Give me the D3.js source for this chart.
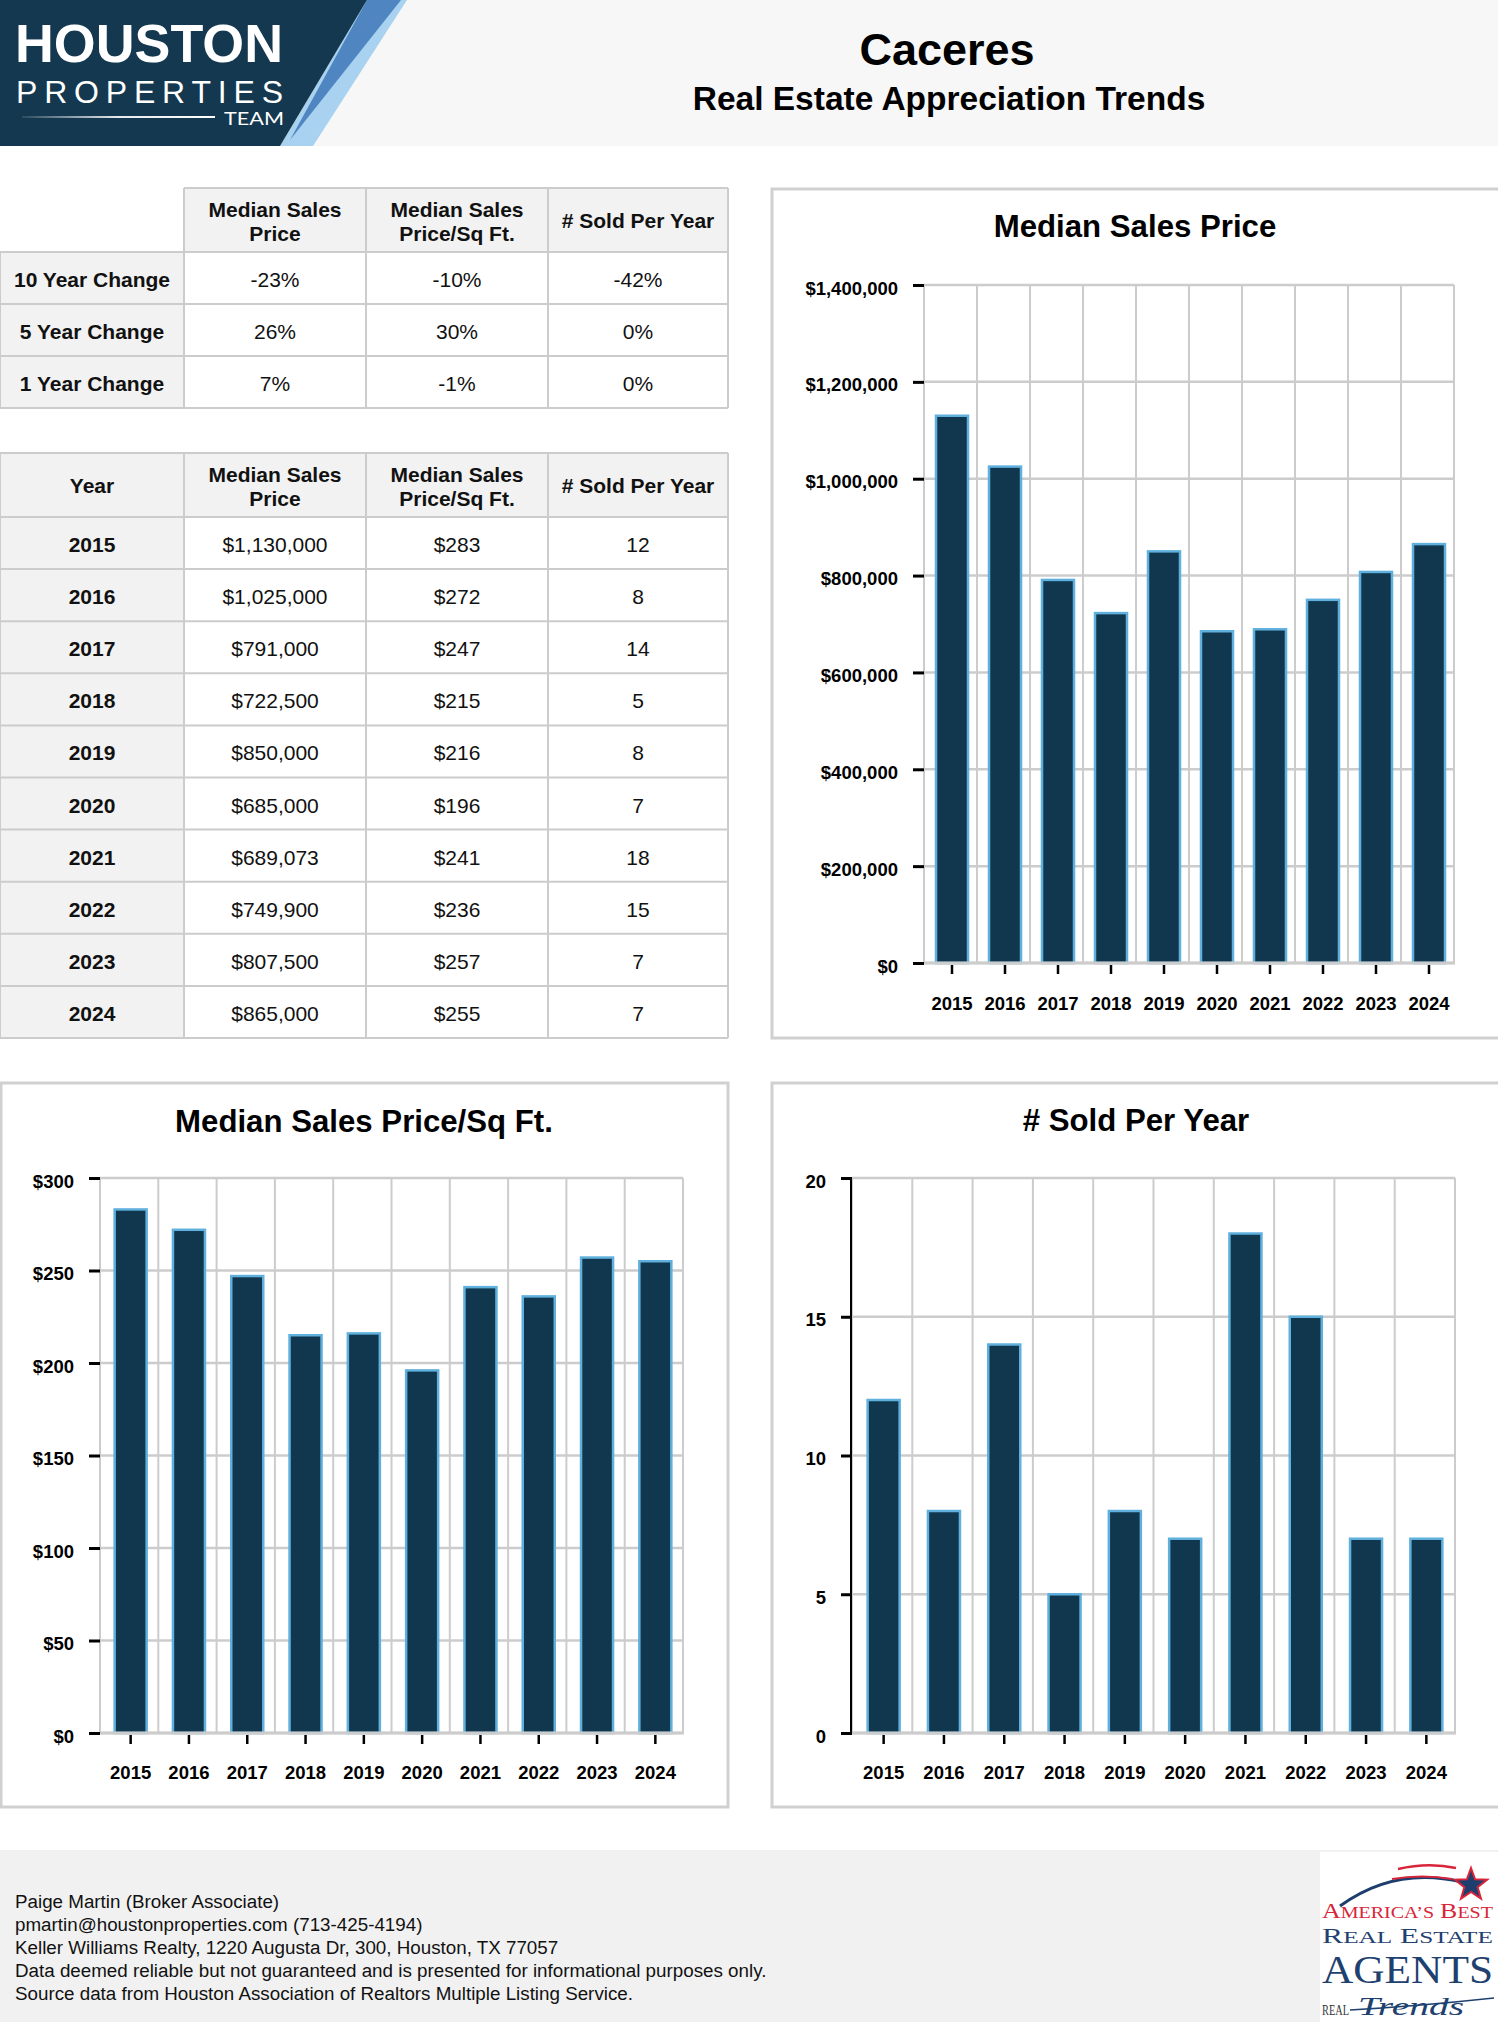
<!DOCTYPE html>
<html><head><meta charset="utf-8">
<script src="https://cdn.jsdelivr.net/npm/d3@7"></script>
<style>
html,body{margin:0;padding:0;background:#fff;}
svg{display:block;font-family:"Liberation Sans",Arial,Helvetica,sans-serif;}
</style></head><body>
<svg id="page" width="1498" height="2022"></svg>
<script>
// ---------- DATA ----------
const years = ["2015","2016","2017","2018","2019","2020","2021","2022","2023","2024"];
const medianPrice = [1130000,1025000,791000,722500,850000,685000,689073,749900,807500,865000];
const pricePerSqFt = [283,272,247,215,216,196,241,236,257,255];
const soldPerYear = [12,8,14,5,8,7,18,15,7,7];

const changeLabels = ["10 Year Change","5 Year Change","1 Year Change"];
const changePrice = ["-23%","26%","7%"];
const changePsf = ["-10%","30%","-1%"];
const changeSold = ["-42%","0%","0%"];

const colHeaders = [["Median Sales","Price"],["Median Sales","Price/Sq Ft."],["# Sold Per Year"]];
const priceTicks = [0,200000,400000,600000,800000,1000000,1200000,1400000];
const psfTicks = [0,50,100,150,200,250,300];
const soldTicks = [0,5,10,15,20];

const footerLines = [
  "Paige Martin (Broker Associate)",
  "pmartin@houstonproperties.com (713-425-4194)",
  "Keller Williams Realty, 1220 Augusta Dr, 300, Houston, TX 77057",
  "Data deemed reliable but not guaranteed and is presented for informational purposes only.",
  "Source data from Houston Association of Realtors Multiple Listing Service."
];

// ---------- STYLE ----------
const NAVY = "#11374f", BAR_STROKE = "#5fb0dc", GRID = "#cccccc";
const svg = d3.select("#page");

// ---------- HEADER ----------
svg.append("rect").attr("x",0).attr("y",0).attr("width",1498).attr("height",146).attr("fill","#f7f7f7");
svg.append("polygon").attr("points","367,0 407,0 313,146 280,146").attr("fill","#a9d2f0");
svg.append("polygon").attr("points","367,0 401,0 290,140").attr("fill","#4f86c2");
svg.append("polygon").attr("points","0,0 367,0 280,146 0,146").attr("fill","#13384f");
svg.append("text").attr("x",15).attr("y",62).attr("fill","#fff")
  .attr("font-family","'Liberation Sans', Arial, sans-serif").attr("font-weight",700).attr("font-size",54)
  .attr("textLength",268).attr("lengthAdjust","spacingAndGlyphs").text("HOUSTON");
svg.append("text").attr("x",16).attr("y",103).attr("fill","#fff")
  .attr("font-family","'Liberation Sans', Arial, sans-serif").attr("font-weight",400).attr("font-size",32)
  .attr("textLength",267).attr("lengthAdjust","spacing").text("PROPERTIES");
svg.append("text").attr("x",224).attr("y",125).attr("fill","#fff")
  .attr("font-family","Lato, 'Open Sans', sans-serif").attr("font-weight",400).attr("font-size",18)
  .attr("textLength",60).attr("lengthAdjust","spacingAndGlyphs").text("TEAM");
const grad = svg.append("defs").append("linearGradient").attr("id","lineFade");
grad.append("stop").attr("offset","0").attr("stop-color","#fff").attr("stop-opacity",0.1);
grad.append("stop").attr("offset","0.5").attr("stop-color","#fff").attr("stop-opacity",0.9);
grad.append("stop").attr("offset","1").attr("stop-color","#fff").attr("stop-opacity",1);
svg.append("rect").attr("x",22).attr("y",116).attr("width",193).attr("height",2).attr("fill","url(#lineFade)");

svg.append("text").attr("x",947).attr("y",65).attr("text-anchor","middle").attr("font-weight",700)
  .attr("font-size",45).attr("fill","#000").text("Caceres");
svg.append("text").attr("x",949).attr("y",110).attr("text-anchor","middle").attr("font-weight",700)
  .attr("font-size",33.5).attr("fill","#000").text("Real Estate Appreciation Trends");

// ---------- TABLES ----------
const colX = [0,184,366,548,728];
const TF = 21;
function drawTable(rowY, firstHeader, bodyRows) {
  const g = svg.append("g");
  const nRows = rowY.length - 1;
  for (let r = 0; r < nRows; r++) {
    for (let c = 0; c < 4; c++) {
      const blank = (r === 0 && c === 0 && firstHeader === null);
      const fill = blank ? "#fff" : ((r === 0 || c === 0) ? "#f2f2f2" : "#fff");
      g.append("rect").attr("x",colX[c]).attr("y",rowY[r]).attr("width",colX[c+1]-colX[c])
        .attr("height",rowY[r+1]-rowY[r]).attr("fill",fill);
    }
  }
  for (let r = 0; r <= nRows; r++) {
    const xs = (r === 0 && firstHeader === null) ? colX[1] : colX[0];
    g.append("line").attr("x1",xs).attr("x2",colX[4]).attr("y1",rowY[r]).attr("y2",rowY[r])
      .attr("stroke",GRID).attr("stroke-width",2);
  }
  for (let c = 0; c <= 4; c++) {
    const ys = (c === 0 && firstHeader === null) ? rowY[1] : rowY[0];
    g.append("line").attr("x1",colX[c]).attr("x2",colX[c]).attr("y1",ys).attr("y2",rowY[nRows])
      .attr("stroke",GRID).attr("stroke-width",2);
  }
  const hc = (rowY[0] + rowY[1]) / 2;
  const headers = [firstHeader ? [firstHeader] : []].concat(colHeaders);
  headers.forEach((lines, c) => {
    const cx = (colX[c] + colX[c+1]) / 2;
    const bases = lines.length === 2 ? [hc - 3, hc + 21] : [hc + 8];
    lines.forEach((t, i) => {
      g.append("text").attr("x",cx).attr("y",bases[i]).attr("text-anchor","middle")
        .attr("font-weight",700).attr("font-size",TF).attr("fill","#111").text(t);
    });
  });
  bodyRows.forEach((row, r) => {
    const cy = (rowY[r+1] + rowY[r+2]) / 2 + 9;
    row.forEach((t, c) => {
      const cx = (colX[c] + colX[c+1]) / 2;
      g.append("text").attr("x",cx).attr("y",cy).attr("text-anchor","middle")
        .attr("font-weight", c === 0 ? 700 : 400).attr("font-size",TF).attr("fill","#111").text(t);
    });
  });
}
drawTable([188,252,304,356,408], null,
  changeLabels.map((l,i) => [l, changePrice[i], changePsf[i], changeSold[i]]));

const t2Rows = [453,517].concat(d3.range(1,11).map(i => 517 + i*52.1));
const fmtMoney = d3.format("$,");
drawTable(t2Rows, "Year",
  years.map((y,i) => [y, fmtMoney(medianPrice[i]), "$" + pricePerSqFt[i], String(soldPerYear[i])]));

// ---------- CHARTS ----------
function barChart(o) {
  svg.append("rect").attr("x",o.px).attr("y",o.py).attr("width",o.pw).attr("height",o.ph)
    .attr("fill","#fff").attr("stroke","#d0d0d0").attr("stroke-width",3);
  svg.append("text").attr("x",o.tx).attr("y",o.ty).attr("text-anchor","middle")
    .attr("font-weight",700).attr("font-size",31.2).attr("fill","#000").text(o.title);

  const x = d3.scaleBand().domain(years).range([o.x0, o.x1]);
  const y = d3.scaleLinear().domain([0, o.ticks[o.ticks.length-1]]).range([o.y1, o.y0]);
  const g = svg.append("g");
  g.selectAll(".hg").data(o.ticks).join("line")
    .attr("x1",o.x0).attr("x2",o.x1).attr("y1",d=>y(d)).attr("y2",d=>y(d))
    .attr("stroke",GRID).attr("stroke-width",2.5);
  g.selectAll(".vg").data(d3.range(0, years.length+1)).join("line")
    .attr("x1",i=>o.x0 + i*x.step()).attr("x2",i=>o.x0 + i*x.step())
    .attr("y1",o.y0).attr("y2",o.y1).attr("stroke",GRID).attr("stroke-width",2);
  const bw = 32;
  g.selectAll(".bar").data(o.values).join("rect")
    .attr("x",(d,i)=>x(years[i]) + x.bandwidth()/2 - bw/2 + 1.5)
    .attr("y",d=>y(d)).attr("width",bw).attr("height",d=>o.y1 - y(d))
    .attr("fill",NAVY).attr("stroke",BAR_STROKE).attr("stroke-width",2.5);
  g.append("line").attr("x1",o.x0).attr("x2",o.x1+1).attr("y1",o.y1).attr("y2",o.y1)
    .attr("stroke",GRID).attr("stroke-width",3);
  const ya = svg.append("g").attr("transform",`translate(${o.x0},0)`)
    .call(d3.axisLeft(y).tickValues(o.ticks).tickSize(11).tickPadding(15).tickFormat(o.fmt));
  ya.select(".domain").attr("stroke", o.blackAxis ? "#000" : "none").attr("stroke-width",2)
    .attr("d", `M-1,${o.y0}V${o.y1}`);
  ya.selectAll(".tick line").attr("stroke","#000").attr("stroke-width",3);
  ya.selectAll(".tick text").attr("dy",null).attr("y",9).attr("font-size",18.5)
    .attr("font-weight",700).attr("fill","#000").attr("font-family","Liberation Sans, Arial, sans-serif");
  const xa = svg.append("g").attr("transform",`translate(1.5,${o.y1+2})`)
    .call(d3.axisBottom(x).tickSize(9).tickPadding(0));
  xa.select(".domain").remove();
  xa.selectAll(".tick line").attr("stroke","#000").attr("stroke-width",2.5);
  xa.selectAll(".tick text").attr("dy",null).attr("y",o.xLabelOff).attr("font-size",18.5)
    .attr("font-weight",700).attr("fill","#000").attr("font-family","Liberation Sans, Arial, sans-serif");
}

barChart({px:772, py:189, pw:760, ph:849, tx:1135, ty:237, title:"Median Sales Price",
  x0:924, x1:1454, y0:285, y1:963, values:medianPrice, ticks:priceTicks,
  fmt:d3.format("$,"), xLabelOff:45, blackAxis:false});
barChart({px:1, py:1083, pw:727, ph:724, tx:364, ty:1132, title:"Median Sales Price/Sq Ft.",
  x0:100, x1:683, y0:1178, y1:1733, values:pricePerSqFt, ticks:psfTicks,
  fmt:d => "$" + d, xLabelOff:44, blackAxis:false});
barChart({px:772, py:1083, pw:760, ph:724, tx:1136, ty:1131, title:"# Sold Per Year",
  x0:852, x1:1455, y0:1178, y1:1733, values:soldPerYear, ticks:soldTicks,
  fmt:d => String(d), xLabelOff:44, blackAxis:true});

// ---------- FOOTER ----------
svg.append("rect").attr("x",0).attr("y",1850).attr("width",1498).attr("height",172).attr("fill","#f1f1f1");
svg.selectAll(".foot").data(footerLines).join("text")
  .attr("x",15).attr("y",(d,i)=>1908 + i*23).attr("font-size",18.8).attr("fill","#111").text(d=>d);

// logo box (bottom right)
const lg = svg.append("g");
lg.append("rect").attr("x",1320).attr("y",1852).attr("width",178).attr("height",170).attr("fill","#fff");
lg.append("path").attr("d","M1340,1906 Q1395,1866 1462,1882").attr("fill","none").attr("stroke","#1e3f6e").attr("stroke-width",3);
lg.append("path").attr("d","M1398,1869 Q1428,1862 1456,1868").attr("fill","none").attr("stroke","#d9253a").attr("stroke-width",2.5);
lg.append("path").attr("d","M1392,1879 Q1422,1874 1452,1879").attr("fill","none").attr("stroke","#d9253a").attr("stroke-width",2);
const star = d3.range(10).map(i => {
  const r = i % 2 === 0 ? 17 : 7, a = -Math.PI/2 + i*Math.PI/5;
  return [1471 + r*Math.cos(a), 1885 + r*Math.sin(a)];
});
lg.append("polygon").attr("points",star.map(p=>p.join(",")).join(" "))
  .attr("fill","#1e3f6e").attr("stroke","#d9253a").attr("stroke-width",2);
const serif = "'Liberation Serif','DejaVu Serif',serif";
function capsLine(parts, baseline, color, width) {
  const grp = lg.append("g");
  let cx = 0;
  parts.forEach(([t, s]) => {
    if (t === " ") { cx += s * 0.3; return; }
    const el = grp.append("text").attr("x",cx).attr("y",0).attr("font-family",serif)
      .attr("font-size",s).attr("fill",color).text(t);
    cx += el.node().getComputedTextLength();
  });
  grp.attr("transform",`translate(1322,${baseline}) scale(${width/cx},1)`);
}
capsLine([["A",22],["MERICA’S",17],[" ",17],["B",22],["EST",17]], 1918, "#d9253a", 171);
capsLine([["R",22],["EAL",17.5],[" ",17.5],["E",22],["STATE",17.5]], 1943, "#1e4170", 171);
lg.append("text").attr("x",1322).attr("y",1983).attr("font-family",serif).attr("fill","#1e4170")
  .attr("font-size",40).attr("textLength",171).attr("lengthAdjust","spacingAndGlyphs").text("AGENTS");
lg.append("text").attr("x",1322).attr("y",2015).attr("font-family",serif).attr("fill","#333")
  .attr("font-size",14).attr("textLength",27).attr("lengthAdjust","spacingAndGlyphs").text("REAL");
lg.append("text").attr("x",1358).attr("y",2015).attr("font-family",serif).attr("font-style","italic")
  .attr("fill","#1e4170").attr("font-size",26).attr("textLength",106).attr("lengthAdjust","spacingAndGlyphs").text("Trends");
lg.append("path").attr("d","M1350,2010 Q1420,2006 1494,1998").attr("fill","none").attr("stroke","#1e4170").attr("stroke-width",1.5);
</script>
</body></html>
